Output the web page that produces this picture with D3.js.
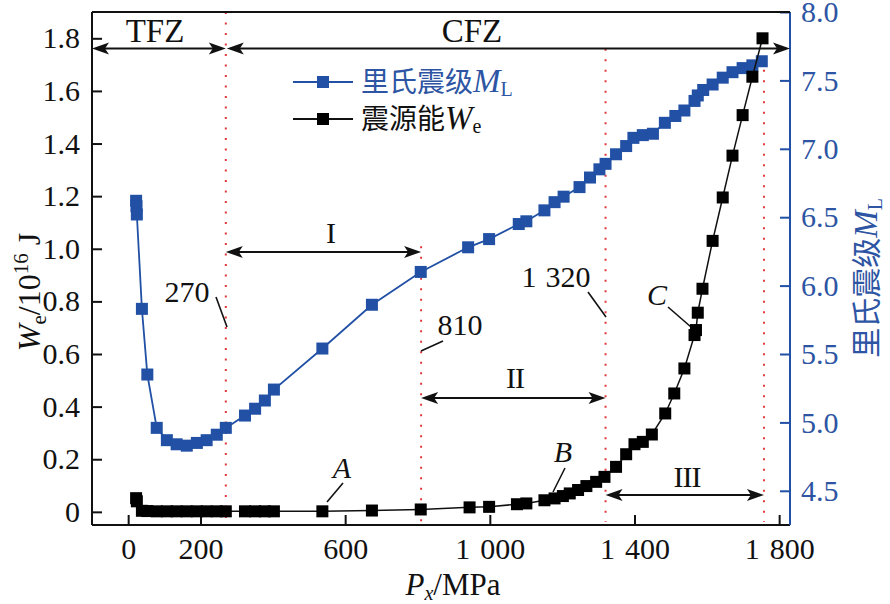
<!DOCTYPE html>
<html><head><meta charset="utf-8">
<script src="https://cdn.jsdelivr.net/npm/d3@7"></script>
<style>body{margin:0;background:#fff}svg{display:block}</style>
</head><body><svg id="c" width="890" height="604"></svg>
<script>
// ---- data ----
const blueX=[22,23,24,38,53,79,107,134,162,190,217,245,270,323,351,378,403,537,674,809,940,998,1080,1101,1151,1179,1204,1248,1277,1303,1320,1349,1377,1397,1423,1451,1484,1513,1538,1566,1575,1590,1616,1644,1671,1699,1726,1752];
const blueY=[6.62,6.58,6.52,5.83,5.35,4.96,4.87,4.84,4.83,4.85,4.87,4.91,4.96,5.05,5.10,5.16,5.24,5.54,5.86,6.10,6.28,6.34,6.45,6.47,6.55,6.61,6.65,6.72,6.79,6.85,6.89,6.96,7.02,7.08,7.10,7.11,7.19,7.24,7.28,7.35,7.39,7.43,7.47,7.52,7.56,7.59,7.61,7.64];
const blackX=[22,24,38,53,79,107,134,162,190,217,245,270,323,351,378,403,537,674,809,944,998,1075,1101,1151,1179,1202,1221,1244,1267,1294,1317,1349,1377,1400,1423,1448,1485,1510,1538,1566,1570,1575,1588,1616,1644,1671,1699,1726,1754];
const blackY=[0.052,0.04,0.004,0.003,0.002,0.002,0.002,0.002,0.002,0.002,0.002,0.002,0.002,0.002,0.002,0.002,0.002,0.005,0.009,0.017,0.019,0.029,0.032,0.044,0.051,0.06,0.07,0.083,0.098,0.114,0.133,0.171,0.219,0.257,0.266,0.294,0.374,0.45,0.545,0.672,0.691,0.757,0.848,1.03,1.195,1.354,1.508,1.654,1.8];
const xTicks=[0,200,600,1000,1400,1800];
const xTickLabels=["0","200","600","1 000","1 400","1 800"];
const leftTicks=[0,0.2,0.4,0.6,0.8,1.0,1.2,1.4,1.6,1.8];
const leftTickLabels=["0","0.2","0.4","0.6","0.8","1.0","1.2","1.4","1.6","1.8"];
const rightTicks=[4.5,5.0,5.5,6.0,6.5,7.0,7.5,8.0];
const rightTickLabels=["4.5","5.0","5.5","6.0","6.5","7.0","7.5","8.0"];
const dividers=[270,810,1320,1758];
const dividerTop=[1.9,1.01,1.76,1.72];
const seriesNames=["里氏震级","震源能"];

// ---- layout ----
const BLUE="#2150a5", BLUE_T="#2d55a3", RED="#e0383a";
const L=92,R=790,T=12,B=525;
const svg=d3.select("#c");
const x=d3.scaleLinear().domain([-100,1830]).range([L,R]);
const yL=d3.scaleLinear().domain([-0.05,1.9]).range([B,T]);
const yR=d3.scaleLinear().domain([4.25,8.0]).range([B,T]);
const SERIF="'Liberation Serif','Times New Roman',serif";
const CJK="'Noto Sans CJK SC','Liberation Serif',serif";

// split a "1 000" style label into tspans with a wider gap
function spaced(sel,gap){
  sel.each(function(){
    const el=d3.select(this); const s=el.text(); const parts=s.split(" ");
    if(parts.length<2) return;
    el.text("");
    el.append("tspan").text(parts[0]);
    el.append("tspan").attr("dx",gap).text(parts.slice(1).join(" "));
  });
}

// dotted dividers
svg.append("g").selectAll("line").data(dividers).join("line")
  .attr("x1",d=>x(d)).attr("x2",d=>x(d))
  .attr("y1",(d,i)=>yL(dividerTop[i])).attr("y2",B-3)
  .attr("stroke",RED).attr("stroke-width",2).attr("stroke-dasharray","2,8.5");

// axes
const ax=svg.append("g").attr("transform",`translate(0,${B})`)
  .call(d3.axisBottom(x).tickValues(xTicks).tickFormat((d,i)=>xTickLabels[i]).tickSizeInner(-10).tickSizeOuter(0).tickPadding(13));
const ay=svg.append("g").attr("transform",`translate(${L},0)`)
  .call(d3.axisLeft(yL).tickValues(leftTicks).tickFormat((d,i)=>leftTickLabels[i]).tickSizeInner(-10).tickSizeOuter(0).tickPadding(12));
const ar=svg.append("g").attr("transform",`translate(${R},0)`)
  .call(d3.axisRight(yR).tickValues(rightTicks).tickFormat((d,i)=>rightTickLabels[i]).tickSizeInner(-10).tickSizeOuter(0).tickPadding(11));
[ax,ay].forEach(g=>{g.selectAll("path,line").attr("stroke","#111").attr("stroke-width",2);
  g.selectAll("text").attr("font-family",SERIF).attr("font-size",30).attr("fill","#111");});
spaced(ax.selectAll("text"),10);
ar.selectAll("path,line").attr("stroke",BLUE).attr("stroke-width",2);
ar.selectAll("text").attr("font-family",SERIF).attr("font-size",30).attr("fill",BLUE_T);
ax.select(".domain").attr("d",`M${L},0H${R}`);
ay.select(".domain").attr("d",`M0,${T}V${B}`);
ar.select(".domain").attr("d",`M0,${T}V${B}`);
svg.append("line").attr("x1",L).attr("x2",R).attr("y1",T).attr("y2",T).attr("stroke","#111").attr("stroke-width",2);

// arrows
function arrow(x1,x2,y){
  const g=svg.append("g");
  g.append("line").attr("x1",x1+4).attr("x2",x2-4).attr("y1",y).attr("y2",y).attr("stroke","#111").attr("stroke-width",2);
  g.append("path").attr("d",`M${x1},${y}L${x1+17},${y-6}L${x1+13},${y}L${x1+17},${y+6}Z`).attr("fill","#111");
  g.append("path").attr("d",`M${x2},${y}L${x2-17},${y-6}L${x2-13},${y}L${x2-17},${y+6}Z`).attr("fill","#111");
}
arrow(L,x(270),yL(1.761));
arrow(x(270)+1,R,yL(1.761));
arrow(x(270),x(810),yL(0.988));
arrow(x(810),x(1320),yL(0.433));
arrow(x(1320),x(1758),yL(0.064));

function txt(s,px,py,opt={}){
  return svg.append("text").attr("x",px).attr("y",py).attr("font-family",opt.ff||SERIF)
    .attr("font-size",opt.fs||30).attr("fill",opt.fill||"#111").attr("text-anchor",opt.anchor||"middle")
    .attr("font-style",opt.italic?"italic":"normal").text(s);
}
txt("TFZ",155,42,{fs:33});
txt("CFZ",472,42,{fs:33});
txt("I",331,243);
txt("II",515,388).attr("letter-spacing",-1);
txt("III",687,487).attr("letter-spacing",-1);
txt("270",187,302);
txt("810",460,335);
spaced(txt("1 320",556,287),9);
txt("C",657,305,{italic:true});
txt("A",342,478,{italic:true});
txt("B",563,462,{italic:true});
function leader(a,b,c,d){svg.append("line").attr("x1",a).attr("y1",b).attr("x2",c).attr("y2",d).attr("stroke","#111").attr("stroke-width",1.6);}
leader(216,297,227,327);
leader(443,341,421,351);
leader(588,292,606,317);
leader(668,307,691,327);
leader(343,483,327,502);
leader(565,468,553,492);

// series
const lineB=d3.line().x((d,i)=>x(blueX[i])).y(d=>yR(d));
svg.append("path").datum(blueY).attr("d",lineB).attr("fill","none").attr("stroke",BLUE).attr("stroke-width",1.8);
svg.append("g").selectAll("rect").data(blueY).join("rect")
  .attr("x",(d,i)=>x(blueX[i])-6).attr("y",d=>yR(d)-6).attr("width",12).attr("height",12).attr("fill",BLUE);
const lineK=d3.line().x((d,i)=>x(blackX[i])).y(d=>yL(d));
svg.append("path").datum(blackY).attr("d",lineK).attr("fill","none").attr("stroke","#111").attr("stroke-width",1.5);
svg.append("g").selectAll("rect").data(blackY).join("rect")
  .attr("x",(d,i)=>x(blackX[i])-6).attr("y",d=>yL(d)-6).attr("width",12).attr("height",12).attr("fill","#000");

// legend
const lg=svg.append("g");
[[82,BLUE,BLUE_T,"M","L"],[119,"#111","#111","W","e"]].forEach((r,i)=>{
  lg.append("line").attr("x1",293).attr("x2",353).attr("y1",r[0]).attr("y2",r[0]).attr("stroke",r[1]).attr("stroke-width",1.8);
  lg.append("rect").attr("x",317).attr("y",r[0]-6).attr("width",12).attr("height",12).attr("fill",i?"#000":BLUE);
  const t=lg.append("text").attr("x",361).attr("y",r[0]+10).attr("font-size",28).attr("fill",r[2]).attr("font-family",CJK);
  t.append("tspan").text(seriesNames[i]);
  t.append("tspan").attr("font-family",SERIF).attr("font-style","italic").attr("font-size",33).text(r[3]);
  t.append("tspan").attr("font-family",SERIF).attr("font-size",20).attr("dy",4).text(r[4]);
});

// axis titles
const xt=svg.append("text").attr("x",453).attr("y",595).attr("text-anchor","middle").attr("font-family",SERIF).attr("font-size",31).attr("fill","#111");
xt.append("tspan").attr("font-style","italic").text("P");
xt.append("tspan").attr("font-style","italic").attr("font-size",20).attr("dy",5).text("x");
xt.append("tspan").attr("dy",-5).text("/MPa");

const lt=svg.append("text").attr("transform","translate(40,292) rotate(-90)").attr("text-anchor","middle").attr("font-family",SERIF).attr("font-size",32).attr("fill","#111");
lt.append("tspan").attr("font-style","italic").text("W");
lt.append("tspan").attr("font-size",21).attr("dy",6).text("e");
lt.append("tspan").attr("dy",-6).text("/10");
lt.append("tspan").attr("font-size",21).attr("dy",-12).text("16");
lt.append("tspan").attr("dy",12).text(" J");

const rt=svg.append("text").attr("transform","translate(877,278) rotate(-90)").attr("text-anchor","middle").attr("font-family",CJK).attr("font-size",30).attr("fill",BLUE_T);
rt.append("tspan").text("里氏震级");
rt.append("tspan").attr("font-family",SERIF).attr("font-style","italic").attr("font-size",33).text("M");
rt.append("tspan").attr("font-family",SERIF).attr("font-size",20).attr("dy",5).text("L");
</script></body></html>
